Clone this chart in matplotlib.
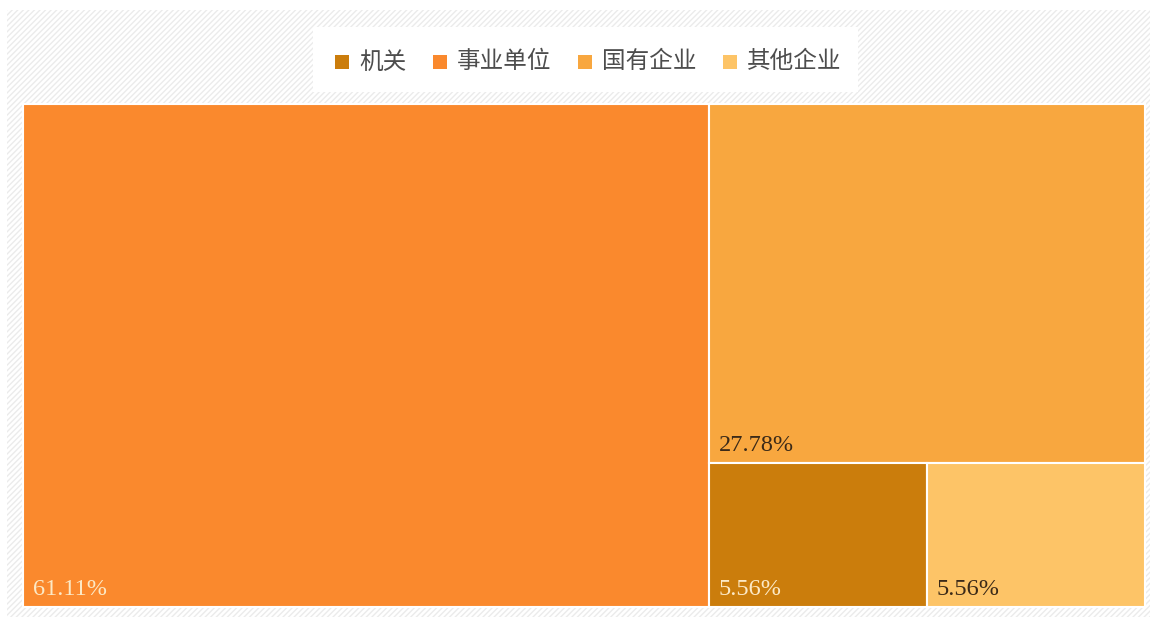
import matplotlib.pyplot as plt
from matplotlib.patches import Rectangle

plt.rcParams['font.family'] = ['Noto Sans CJK SC', 'DejaVu Sans']
plt.rcParams['hatch.linewidth'] = 1.0

# data
categories = ['机关', '事业单位', '国有企业', '其他企业']
counts = [1, 11, 5, 1]
colors = ['#CB7D0C', '#FA892D', '#F8A73F', '#FDC467']
label_colors = ['#FCE9C6', '#FCE9C6', '#3B2A18', '#3B2A18']


def worst(row, side):
    s = sum(a for _, a in row)
    return max(max(side * side * a / (s * s), s * s / (side * side * a)) for _, a in row)


def layout_row(row, x, y, w, h):
    s = sum(a for _, a in row)
    rects = []
    if w >= h:
        # column on the left
        cw = s / h
        yy = y
        for i, a in row:
            rects.append((i, x, yy, cw, a / cw))
            yy += a / cw
        return rects, (x + cw, y, w - cw, h)
    # row on top
    rh = s / w
    xx = x
    for i, a in row:
        rects.append((i, xx, y, a / rh, rh))
        xx += a / rh
    return rects, (x, y + rh, w, h - rh)


def squarify(values, x, y, w, h):
    total = sum(values)
    items = sorted(range(len(values)), key=lambda i: -values[i])
    areas = [(i, values[i] * w * h / total) for i in items]
    out = []
    box = (x, y, w, h)
    row = []
    while areas:
        side = min(box[2], box[3])
        cand = row + [areas[0]]
        if not row or worst(cand, side) <= worst(row, side):
            row = cand
            areas.pop(0)
        else:
            rects, box = layout_row(row, *box)
            out += rects
            row = []
    if row:
        rects, box = layout_row(row, *box)
        out += rects
    return out


W, H = 1150, 619
fig = plt.figure(figsize=(W / 100, H / 100), dpi=100)
ax = fig.add_axes([0, 0, 1, 1])
ax.set_xlim(0, W)
ax.set_ylim(H, 0)
ax.axis('off')

# striped background
ax.add_patch(Rectangle((7, 10), 1143, 607, facecolor='white', edgecolor='#ebebeb',
                       hatch='//////', linewidth=0))

# legend box
ax.add_patch(Rectangle((313, 27), 545, 65, facecolor='white', edgecolor='none'))
lx = 335
for cat, col in zip(categories, colors):
    ax.add_patch(Rectangle((lx, 55), 14, 14, facecolor=col, edgecolor='none'))
    ax.text(lx + 24, 62, cat, fontsize=17, color='#4d4d4d', va='center', ha='left')
    lx += 51 + 23.5 * len(cat)

# treemap
total = sum(counts)
for i, x, y, w, h in squarify(counts, 23, 104, 1122, 503):
    ax.add_patch(Rectangle((x, y), w, h, facecolor=colors[i], edgecolor='white', linewidth=1.5))
    ax.text(x + 10, y + h - 12, f'{counts[i] / total * 100:.2f}%', fontsize=17.5,
            family='Liberation Serif', color=label_colors[i], ha='left', va='baseline')

fig.savefig('out.png', dpi=100)
